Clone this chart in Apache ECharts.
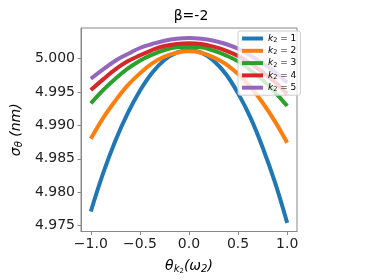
<!DOCTYPE html>
<html><head><meta charset="utf-8">
<script src="https://cdn.jsdelivr.net/npm/echarts@6/dist/echarts.min.js"></script>
<style>html,body{margin:0;padding:0;background:#fff}#c{width:374px;height:280px}</style>
</head><body><div id="c"></div>
<script>
var xs = [-1, -0.875, -0.75, -0.625, -0.5, -0.375, -0.25, -0.125, 0, 0.125, 0.25, 0.375, 0.5, 0.625, 0.75, 0.875, 1];
var k1 = [4.9771, 4.9828, 4.9877, 4.9918, 4.9952, 4.9979, 4.9998, 5.0009, 5.0013, 5.0009, 4.9997, 4.9977, 4.9948, 4.9912, 4.9867, 4.9815, 4.9754];
var k2 = [4.9880, 4.9911, 4.9937, 4.9960, 4.9978, 4.9993, 5.0003, 5.0009, 5.0011, 5.0009, 5.0002, 4.9992, 4.9977, 4.9958, 4.9934, 4.9906, 4.9874];
var k3 = [4.9933, 4.9953, 4.9970, 4.9985, 4.9997, 5.0006, 5.0013, 5.0017, 5.0018, 5.0017, 5.0012, 5.0005, 4.9996, 4.9983, 4.9968, 4.9950, 4.9929];
var k4 = [4.9953, 4.9969, 4.9984, 4.9996, 5.0005, 5.0013, 5.0019, 5.0022, 5.0023, 5.0022, 5.0018, 5.0012, 5.0004, 4.9993, 4.9980, 4.9965, 4.9947];
var k5 = [4.9970, 4.9984, 4.9997, 5.0007, 5.0016, 5.0022, 5.0027, 5.0030, 5.0031, 5.0030, 5.0027, 5.0022, 5.0015, 5.0005, 4.9993, 4.9980, 4.9964];
var seriesNames = ['1', '2', '3', '4', '5'];
var seriesValues = [k1, k2, k3, k4, k5];
var colors = ['#1f77b4', '#ff7f0e', '#2ca02c', '#d62728', '#9467bd'];
var xTicks = [-1, -0.5, 0, 0.5, 1];
var yTicks = [4.975, 4.980, 4.985, 4.990, 4.995, 5.000];
var title = 'β=-2';

var font = 'DejaVu Sans';
var series = seriesValues.map(function (vals, i) {
  return {
    name: seriesNames[i], type: 'line', smooth: 0.4, showSymbol: false,
    data: xs.map(function (x, j) { return [x, vals[j]]; }),
    lineStyle: { width: 4, color: colors[i] }, itemStyle: { color: colors[i] }
  };
});
var chart = echarts.init(document.getElementById('c'), null, { renderer: 'canvas' });
chart.setOption({
  animation: false,
  color: colors,
  title: { text: title, left: 186, top: 4, textAlign: 'center',
    textStyle: { fontFamily: font, fontSize: 14, fontWeight: 'normal', color: '#000' } },
  grid: { left: 76, right: 77, top: 28, bottom: 43, show: true, borderColor: '#888', borderWidth: 1 },
  legend: {
    orient: 'vertical', left: 238, top: 31, padding: [2, 4, 2, 4],
    itemWidth: 21, itemHeight: 4, itemGap: 1.3, icon: 'rect',
    backgroundColor: 'rgba(255,255,255,0.8)', borderColor: '#ccc', borderWidth: 1, borderRadius: 2,
    formatter: function (n) { return '{i|k}{s|2}{n| = ' + n + '}'; },
    textStyle: { fontFamily: font, fontSize: 9, color: '#000', lineHeight: 10,
      rich: {
        i: { fontFamily: font, fontStyle: 'italic', fontSize: 9, lineHeight: 10 },
        s: { fontFamily: font, fontSize: 6.5, lineHeight: 10, padding: [4, 0, 0, 0] },
        n: { fontFamily: font, fontSize: 9, lineHeight: 10 }
      } }
  },
  xAxis: {
    type: 'value', min: -1.1, max: 1.1,
    name: '{a|θ}{b|k}{c|2}{a|(ω}{b|2}{a|)}', nameLocation: 'middle', nameGap: 26,
    nameTextStyle: { fontFamily: font, fontSize: 14, color: '#000',
      rich: {
        a: { fontFamily: font, fontStyle: 'italic', fontSize: 14, lineHeight: 18 },
        b: { fontFamily: font, fontStyle: 'italic', fontSize: 10, lineHeight: 18, padding: [6, 0, 0, 0] },
        c: { fontFamily: font, fontSize: 7, lineHeight: 18, padding: [10, 0, 0, 0] }
      } },
    splitLine: { show: false },
    axisLine: { show: true, onZero: false, lineStyle: { color: '#888' } },
    axisTick: { show: true, length: 3.5, lineStyle: { color: '#888' }, customValues: xTicks },
    axisLabel: { fontFamily: font, fontSize: 14, color: '#222', margin: 6, customValues: xTicks,
      formatter: function (v) { return (v < 0 ? '\u2212' : '') + Math.abs(v).toFixed(1); } }
  },
  yAxis: {
    type: 'value', min: 4.9741, max: 5.0046,
    name: '{a|σ}{b|θ}{a| (nm)}', nameLocation: 'middle', nameRotate: 90, nameGap: 56,
    nameTextStyle: { fontFamily: font, fontSize: 14, color: '#000',
      rich: {
        a: { fontFamily: font, fontStyle: 'italic', fontSize: 14, lineHeight: 18 },
        b: { fontFamily: font, fontStyle: 'italic', fontSize: 10, lineHeight: 18, padding: [6, 0, 0, 0] }
      } },
    splitLine: { show: false },
    axisLine: { show: true, onZero: false, lineStyle: { color: '#888' } },
    axisTick: { show: true, length: 3.5, lineStyle: { color: '#888' }, customValues: yTicks },
    axisLabel: { fontFamily: font, fontSize: 14, color: '#222', margin: 6, customValues: yTicks,
      formatter: function (v) { return v.toFixed(3); } }
  },
  series: series
});
</script></body></html>
